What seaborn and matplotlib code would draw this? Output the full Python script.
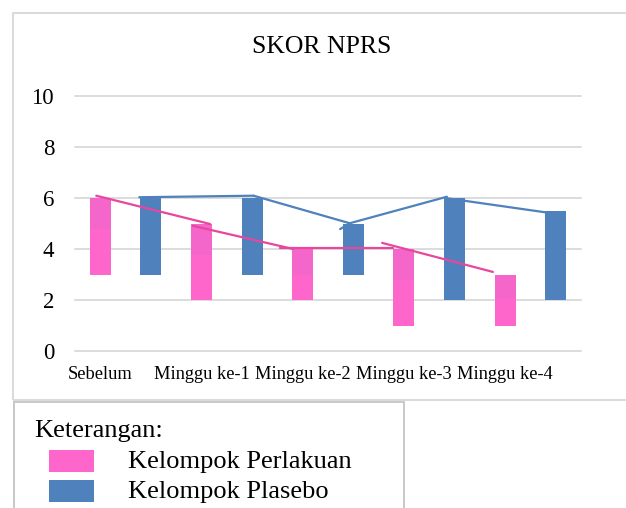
import numpy as np
import pandas as pd
import matplotlib
matplotlib.use("Agg")
import matplotlib.pyplot as plt
from matplotlib.patches import Rectangle
import seaborn as sns

# ---------------- data ----------------
categories = ["Sebelum", "Minggu ke-1", "Minggu ke-2", "Minggu ke-3", "Minggu ke-4"]
perlakuan_min = [3, 2, 2, 1, 1]
perlakuan_mid = [4.8, 3.75, 3.0, 2.8, 2.05]
perlakuan_max = [6, 5, 4, 4, 3]
plasebo_min = [3, 3, 3, 2, 2]
plasebo_max = [6, 6, 5, 6, 5.5]
y_ticks = [0, 2, 4, 6, 8, 10]

# hand-drawn trend segments (slot units, score units)
pink_seg_x0 = [-0.08, 1.83, 3.55, 5.57]
pink_seg_x1 = [2.17, 3.81, 5.78, 7.76]
pink_seg_y0 = [6.09, 4.91, 4.05, 4.24]
pink_seg_y1 = [4.98, 4.00, 4.05, 3.10]
blue_seg_x0 = [0.77, 3.03, 4.74, 4.93, 6.85]
blue_seg_x1 = [3.03, 4.93, 4.93, 6.85, 8.79]
blue_seg_y0 = [6.03, 6.09, 4.78, 5.01, 5.99]
blue_seg_y1 = [6.09, 5.01, 5.01, 6.05, 5.44]

legend_title = "Keterangan:"
legend_labels = ["Kelompok Perlakuan", "Kelompok Plasebo"]
title = "SKOR NPRS"

# ---------------- style ----------------
PINK = "#FF66CC"
PINK_TOP = "#F466C9"
PINK_LINE = "#E8479E"
BLUE = "#4F81BD"
GRID = "#D9D9D9"

sns.set_theme(style="white")
plt.rcParams["font.family"] = ["Liberation Serif", "DejaVu Serif"]
plt.rcParams["text.color"] = "black"

W, H = 626, 508
fig = plt.figure(figsize=(W / 100, H / 100), dpi=100)
ax = fig.add_axes([75 / W, 1 - 351 / H, 506 / W, 255 / H])

slots = list(range(2 * len(categories)))
pink_slots = slots[0::2]
blue_slots = slots[1::2]


def floating(ax, pos, lo, hi, color):
    n0 = len(ax.patches)
    sns.barplot(x=pos, y=hi, order=slots, color=color, width=0.415,
                saturation=1, errorbar=None, ax=ax)
    new = sorted(ax.patches[n0:], key=lambda p: p.get_x())
    for p, l, h in zip(new, lo, hi):
        p.set_y(l)
        p.set_height(h - l)
        p.set_linewidth(0)


floating(ax, pink_slots, perlakuan_min, perlakuan_max, PINK)
floating(ax, pink_slots, perlakuan_mid, perlakuan_max, PINK_TOP)
floating(ax, blue_slots, plasebo_min, plasebo_max, BLUE)

for x0, x1, y0, y1 in zip(pink_seg_x0, pink_seg_x1, pink_seg_y0, pink_seg_y1):
    sns.lineplot(x=[x0, x1], y=[y0, y1], color=PINK_LINE, lw=1.6,
                 estimator=None, sort=False, legend=False, ax=ax)
for x0, x1, y0, y1 in zip(blue_seg_x0, blue_seg_x1, blue_seg_y0, blue_seg_y1):
    sns.lineplot(x=[x0, x1], y=[y0, y1], color=BLUE, lw=1.6,
                 estimator=None, sort=False, legend=False, ax=ax)

ax.set_xlim(-0.5, len(slots) - 0.5)
ax.set_ylim(0, 10)
ax.set_yticks(y_ticks)
ax.set_xticks(pink_slots)
ax.set_xticklabels(categories)
ax.set_xlabel("")
ax.set_ylabel("")
ax.yaxis.grid(True, color=GRID, lw=1.3)
ax.xaxis.grid(False)
ax.set_axisbelow(True)
for gl in ax.get_ygridlines():
    gl.set_clip_on(False)
for s in ax.spines.values():
    s.set_visible(False)
ax.tick_params(axis="y", length=0, labelsize=16.5, pad=15, labelcolor="black")
ax.tick_params(axis="x", length=0, labelsize=13.2, pad=11, labelcolor="black")
ax.patch.set_alpha(0)

fig.text(321.5 / W, 1 - 47 / H, title, ha="center", va="center", fontsize=18.5)

# chart border
fig.patches.append(Rectangle((12.5 / W, 1 - 399.5 / H), (W + 20) / W, 387 / H,
                             transform=fig.transFigure, fill=False,
                             edgecolor=GRID, lw=1.4, zorder=0))
# legend box
fig.patches.append(Rectangle((13.5 / W, 1 - (H + 20) / H), 390 / W, (H + 20 - 401.5) / H,
                             transform=fig.transFigure, fill=False,
                             edgecolor="#C8C8C8", lw=1.4, zorder=0))
fig.text(34 / W, 1 - 436.7 / H, legend_title, ha="left", va="baseline", fontsize=19)
for i, (lab, col) in enumerate(zip(legend_labels, [PINK, BLUE])):
    top = 450 + 30 * i
    fig.patches.append(Rectangle((49 / W, 1 - (top + 22) / H), 45 / W, 22 / H,
                                 transform=fig.transFigure, facecolor=col,
                                 edgecolor="none"))
    fig.text(128 / W, 1 - (468.3 + 30 * i) / H, lab, ha="left", va="baseline", fontsize=19)

fig.savefig("out.png", dpi=100)
